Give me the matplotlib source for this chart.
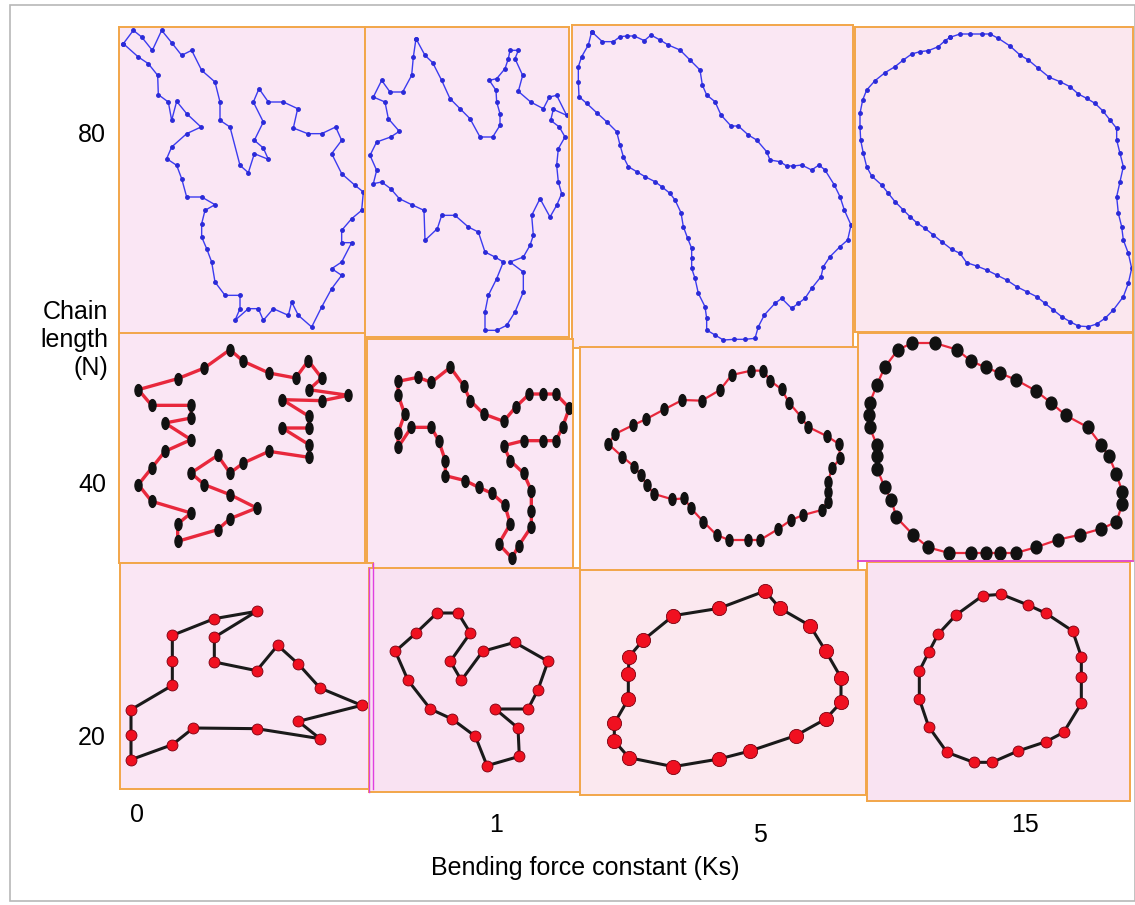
import matplotlib
matplotlib.use("Agg")
import matplotlib.pyplot as plt
from matplotlib.markers import MarkerStyle
from matplotlib.transforms import Affine2D
from matplotlib.patches import Rectangle
import numpy as np

plt.rcParams['font.family'] = ['Liberation Sans', 'DejaVu Sans']

W, H = 1135, 905

# chain conformations (panel units, y pointing down)
# N = 80
n80_k0_x = [25, 55, 80, 112, 140, 170, 200, 230, 260, 300, 315, 315, 345, 375, 400, 418, 460, 445, 418, 445,
            415, 432, 460, 505, 548, 535, 578, 620, 662, 680, 650, 680, 720, 745, 740, 710, 680, 680, 710, 680,
            650, 680, 650, 620, 590, 550, 530, 520, 475, 445, 430, 400, 360, 375, 375, 330, 300, 290, 275, 260,
            260, 270, 300, 260, 215, 200, 185, 155, 170, 215, 258, 215, 185, 170, 160, 130, 128, 100, 70]
n80_k0_y = [65, 25, 45, 85, 25, 62, 100, 85, 145, 180, 240, 295, 315, 430, 452, 395, 412, 378, 355, 300,
            240, 200, 240, 240, 260, 318, 335, 335, 315, 355, 395, 455, 490, 510, 565, 590, 625, 662, 662, 720,
            740, 760, 800, 855, 915, 880, 840, 880, 860, 895, 860, 860, 895, 860, 820, 820, 780, 720, 680, 645,
            605, 565, 548, 525, 525, 470, 430, 410, 375, 335, 315, 275, 238, 295, 240, 218, 160, 125, 105]

n80_k1_x = [168, 195, 218, 245, 270, 300, 330, 360, 398, 420, 420, 410, 408, 388, 410, 435, 445, 450, 475, 465,
            488, 475, 512, 550, 568, 590, 620, 580, 572, 598, 615, 595, 590, 595, 605, 590, 570, 540, 515, 520,
            510, 490, 450, 490, 490, 465, 440, 410, 375, 375, 385, 410, 430, 405, 375, 355, 325, 285, 245, 232,
            195, 192, 155, 118, 92, 65, 40, 50, 30, 50, 92, 118, 85, 75, 40, 65, 90, 128, 155, 160]
n80_k1_y = [50, 100, 122, 175, 230, 260, 290, 345, 345, 310, 275, 240, 205, 175, 170, 140, 110, 85, 85, 110,
            160, 208, 240, 260, 225, 220, 280, 262, 295, 315, 345, 380, 430, 480, 515, 550, 585, 530, 580, 640,
            670, 705, 720, 750, 810, 870, 910, 925, 925, 870, 820, 770, 720, 705, 690, 630, 615, 580, 580, 620,
            655, 565, 548, 530, 500, 480, 485, 445, 400, 360, 345, 328, 290, 240, 225, 175, 210, 210, 160, 105]

n80_k5_x = [80, 70, 50, 40, 40, 42, 65, 95, 125, 155, 165, 175, 190, 215, 240, 270, 290, 315, 330, 348,
            355, 368, 380, 380, 380, 390, 400, 420, 425, 425, 450, 475, 508, 540, 570, 580, 598, 630, 650, 680,
            700, 720, 740, 768, 775, 795, 825, 848, 858, 838, 825, 808, 780, 762, 740, 710, 685, 665, 645, 615,
            605, 575, 550, 520, 498, 468, 450, 425, 412, 405, 375, 345, 310, 285, 258, 238, 208, 185, 165, 145, 112]
n80_k5_y = [35, 75, 110, 140, 185, 230, 250, 278, 305, 335, 375, 410, 440, 455, 470, 485, 500, 520, 540, 578,
            620, 655, 685, 715, 745, 775, 820, 860, 895, 930, 945, 960, 958, 958, 955, 920, 885, 850, 835, 865,
            850, 835, 805, 770, 740, 710, 680, 660, 615, 570, 530, 495, 450, 435, 450, 435, 438, 438, 425, 420,
            395, 360, 345, 318, 318, 285, 245, 225, 195, 150, 120, 90, 75, 60, 45, 62, 48, 48, 50, 65, 65]

n80_k15_x = [300, 330, 360, 395, 420, 445, 480, 510, 535, 565, 598, 630, 660, 685, 710, 735, 758, 780, 800, 800,
             810, 820, 810, 800, 805, 815, 820, 835, 845, 835, 820, 790, 765, 740, 715, 685, 660, 635, 610, 585,
             560, 530, 500, 470, 440, 410, 380, 350, 330, 305, 275, 250, 225, 200, 180, 160, 135, 115, 95, 65,
             50, 40, 32, 30, 30, 38, 50, 75, 105, 135, 160, 185, 210, 235, 265, 285]
n80_k15_y = [52, 42, 42, 42, 42, 55, 78, 105, 120, 145, 172, 185, 200, 222, 235, 250, 272, 300, 325, 360,
             400, 440, 485, 530, 580, 620, 660, 700, 745, 790, 830, 870, 895, 912, 920, 918, 905, 890, 870, 850,
             830, 815, 800, 780, 765, 750, 738, 728, 700, 688, 665, 645, 625, 608, 590, 570, 545, 520, 495, 468,
             440, 400, 360, 320, 280, 240, 210, 182, 158, 140, 120, 102, 95, 92, 80, 62]

# N = 40
n40_k0_x = [345, 385, 462, 542, 580, 620, 582, 700, 622, 502, 582, 582, 502, 582, 582, 462, 385, 345, 308, 228,
            268, 345, 425, 345, 308, 188, 188, 228, 110, 70, 110, 150, 228, 150, 228, 228, 110, 70, 188, 268]
n40_k0_y = [65, 100, 135, 150, 98, 150, 185, 202, 218, 215, 265, 300, 300, 350, 388, 370, 405, 435, 382, 435,
            470, 500, 540, 572, 605, 640, 588, 555, 520, 470, 420, 370, 335, 285, 270, 232, 232, 185, 152, 120]

n40_k1_x = [265, 305, 325, 365, 425, 462, 502, 542, 582, 622, 602, 582, 542, 485, 425, 445, 485, 508, 508, 508,
            470, 450, 410, 445, 428, 390, 350, 310, 250, 250, 230, 208, 148, 108, 108, 128, 108, 108, 168, 208]
n40_k1_y = [100, 155, 200, 240, 262, 218, 180, 180, 180, 222, 278, 320, 320, 320, 335, 380, 418, 470, 532, 578,
            635, 672, 630, 570, 512, 478, 460, 440, 425, 380, 320, 280, 280, 340, 298, 240, 182, 142, 130, 145]

n40_k5_x = [528, 565, 585, 620, 642, 678, 698, 755, 792, 795, 772, 758, 758, 758, 740, 685, 648, 608, 555, 518,
            462, 425, 385, 348, 328, 292, 238, 215, 198, 178, 142, 100, 120, 175, 212, 268, 322, 380, 435, 470]
n40_k5_y = [92, 92, 122, 148, 188, 230, 260, 288, 312, 355, 385, 425, 455, 485, 510, 525, 540, 568, 600, 600,
            600, 585, 545, 505, 475, 478, 462, 435, 405, 380, 350, 312, 282, 255, 238, 208, 180, 182, 150, 105]

n40_k15_x = [178, 245, 312, 355, 398, 440, 488, 548, 595, 638, 705, 745, 768, 790, 808, 808, 790, 745, 682, 615,
             548, 488, 440, 398, 355, 288, 225, 180, 130, 115, 95, 72, 72, 72, 50, 48, 50, 72, 95, 135]
n40_k15_y = [45, 45, 65, 100, 118, 135, 155, 188, 225, 262, 298, 352, 385, 438, 492, 528, 582, 602, 620, 635,
             658, 675, 675, 675, 675, 675, 658, 620, 568, 515, 478, 422, 385, 352, 298, 262, 225, 170, 118, 65]

# N = 20
n20_k0_x = [425, 298, 172, 172, 172, 48, 48, 48, 172, 235, 425, 615, 550, 740, 615, 550, 488, 425, 298, 298]
n20_k0_y = [160, 182, 232, 308, 382, 455, 530, 605, 560, 510, 512, 542, 490, 442, 390, 318, 262, 338, 312, 238]

n20_k1_x = [225, 288, 325, 265, 298, 362, 458, 558, 528, 498, 400, 468, 472, 375, 340, 270, 205, 138, 100, 162]
n20_k1_y = [150, 150, 210, 295, 352, 265, 238, 295, 380, 438, 438, 495, 580, 608, 520, 468, 438, 352, 265, 210]

n20_k5_x = [570, 615, 705, 752, 798, 798, 752, 662, 525, 432, 295, 162, 118, 118, 160, 160, 162, 205, 295, 432]
n20_k5_y = [78, 130, 182, 258, 338, 412, 462, 512, 558, 582, 605, 578, 528, 475, 402, 328, 275, 225, 152, 130]

n20_k15_x = [362, 418, 498, 552, 632, 658, 658, 658, 605, 552, 468, 390, 335, 255, 200, 172, 172, 200, 228, 282]
n20_k15_y = [122, 118, 150, 175, 228, 305, 365, 445, 532, 560, 588, 622, 622, 592, 515, 432, 348, 292, 238, 180]

chain_lengths = ["80", "40", "20"]
ks_labels = ["0", "1", "5", "15"]

# panel layout: crop origin of the reading grid, frame in image pixels, row, background
panels = [
    (n80_k0_x, n80_k0_y, (115, 22), (119, 27, 365, 334), 0, '#fae6f4'),
    (n80_k1_x, n80_k1_y, (360, 22), (365, 27, 569, 337), 0, '#fae6f4'),
    (n80_k5_x, n80_k5_y, (565, 20), (572, 25, 853, 348), 0, '#fae7f3'),
    (n80_k15_x, n80_k15_y, (850, 20), (855, 27, 1133, 332), 0, '#fbe7ee'),
    (n40_k0_x, n40_k0_y, (115, 328), (119, 333, 365, 563), 1, '#fae6f4'),
    (n40_k1_x, n40_k1_y, (362, 334), (367, 339, 573, 570), 1, '#fae6f4'),
    (n40_k5_x, n40_k5_y, (575, 340), (580, 347, 858, 572), 1, '#fae7f4'),
    (n40_k15_x, n40_k15_y, (853, 328), (858, 333, 1133, 561), 1, '#fae6f4'),
    (n20_k0_x, n20_k0_y, (115, 558), (120, 563, 373, 789), 2, '#fae6f4'),
    (n20_k1_x, n20_k1_y, (362, 563), (369, 568, 580, 792), 2, '#f9e2f2'),
    (n20_k5_x, n20_k5_y, (575, 565), (580, 570, 866, 795), 2, '#fbe8ef'),
    (n20_k15_x, n20_k15_y, (862, 555), (867, 562, 1130, 801), 2, '#f9e3f2'),
]

ellipse = MarkerStyle('o', transform=Affine2D().scale(0.6, 1.0))
ellipse_soft = MarkerStyle('o', transform=Affine2D().scale(0.85, 1.0))

fig = plt.figure(figsize=(W / 100, H / 100), dpi=100)
fig.patches.append(Rectangle((10 / W, 4 / H), 1 - 10 / W, 1 - 9 / H, transform=fig.transFigure,
                             fill=False, edgecolor='#b8b8b8', lw=1.2))

for i, (xs, ys, crop, frame, row, bg) in enumerate(panels):
    x0, y0, x1, y1 = frame
    ax = fig.add_axes([x0 / W, 1 - y1 / H, (x1 - x0) / W, (y1 - y0) / H])
    ax.set_facecolor(bg)
    ax.set_xlim((x0 - crop[0]) * 3, (x1 - crop[0]) * 3)
    ax.set_ylim((y1 - crop[1]) * 3, (y0 - crop[1]) * 3)
    ax.set_xticks([])
    ax.set_yticks([])
    for s in ax.spines.values():
        s.set_color('#f2a649')
        s.set_linewidth(1.4)
    x = np.append(xs, xs[0])
    y = np.append(ys, ys[0])
    if row == 0:
        ax.plot(x, y, color='#3b3bf0', lw=1.0, marker='o', ms=2.5, mfc='#2a2ad8', mec='#2a2ad8')
    elif row == 1:
        big = i >= 6
        ax.plot(x, y, color='#e8283c', lw=1.6 if big else 2.4, zorder=1)
        ax.scatter(xs, ys, marker=ellipse if i < 7 else ellipse_soft, s=72 if i < 7 else 85,
                   color='#111111', zorder=2)
    else:
        size = 105 if i == 10 else 62
        ax.plot(x, y, color='#1a1a1a', lw=2.2, zorder=1)
        ax.scatter(xs, ys, s=size, color='#f01020', edgecolors='#7a0010', linewidths=0.6, zorder=2)

# magenta edges seen on a few panels
fig.add_artist(plt.Line2D([858 / W, 1133 / W], [1 - 561 / H, 1 - 561 / H], color='#e040e0', lw=1.2))
fig.add_artist(plt.Line2D([373 / W, 373 / W], [1 - 563 / H, 1 - 789 / H], color='#e040e0', lw=1.0))
fig.add_artist(plt.Line2D([369 / W, 369 / W], [1 - 568 / H, 1 - 792 / H], color='#e040e0', lw=1.0))

# row labels
row_y = [135, 485, 738]
for lab, yy in zip(chain_lengths, row_y):
    fig.text(106 / W, 1 - yy / H, lab, ha='right', va='center', fontsize=18)
fig.text(108 / W, 1 - 340 / H, "Chain\nlength\n(N)", ha='right', va='center', fontsize=18,
         linespacing=1.2)

# column labels
col_x = [137, 496, 760, 1025]
col_y = [815, 825, 835, 825]
for lab, xx, yy in zip(ks_labels, col_x, col_y):
    fig.text(xx / W, 1 - yy / H, lab, ha='center', va='center', fontsize=18)
fig.text(585 / W, 1 - 868 / H, "Bending force constant (Ks)", ha='center', va='center', fontsize=18)

fig.savefig("out.png", dpi=100)
